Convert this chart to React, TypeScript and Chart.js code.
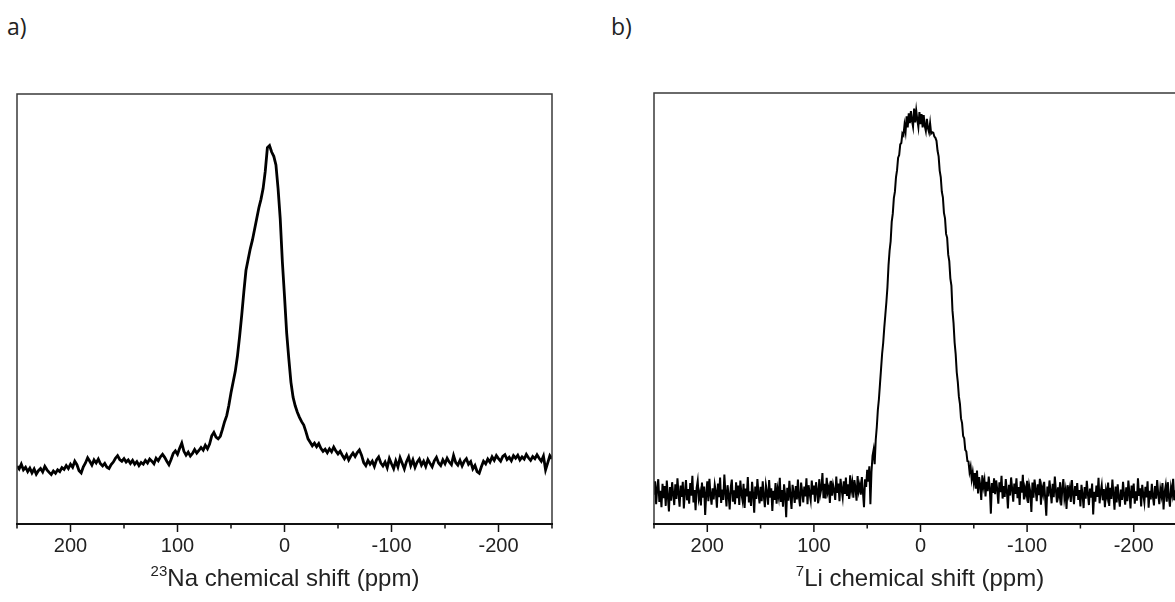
import React, { useEffect, useRef } from "react";
import { Chart, registerables } from "chart.js";

Chart.register(...registerables);

// ---------- data ----------
// 23Na spectrum, ppm from 250 down to -250 in 2 ppm steps
const naStartPpm = 250;
const naStepPpm = -2;
const naIntensity = [
  13.5, 12.8, 13.9, 12.6, 13.2, 12.2, 13.0, 11.9, 12.8, 11.6,
  12.4, 12.9, 12.1, 13.4, 12.6, 12.0, 11.5, 12.3, 11.8, 12.6,
  12.2, 13.1, 12.7, 13.6, 12.9, 13.9, 13.2, 14.6, 13.8, 12.4,
  11.9, 13.3, 14.2, 15.4, 14.6, 13.7, 14.9, 14.2, 15.1, 14.0,
  13.5, 14.1, 13.2, 12.9, 13.8, 14.4, 15.3, 15.9, 15.0, 14.6,
  15.2, 14.4, 14.9, 14.1, 14.8, 13.9, 14.5, 13.6, 14.3, 13.9,
  14.8, 14.2, 15.1, 14.6, 14.0, 15.3, 14.7, 15.6, 16.2, 15.5,
  14.6, 13.8, 15.0, 16.4, 17.0, 16.2, 17.6, 18.8, 16.9, 16.0,
  16.7, 15.8, 16.4, 17.3, 16.5, 17.1, 17.8, 17.2, 18.3, 17.5,
  18.6, 20.5, 21.3, 20.2, 19.8, 20.4, 22.0, 23.8, 25.2, 27.6,
  30.5, 33.0, 35.5, 39.0, 43.5, 48.5, 54.0, 59.0, 61.5, 64.0,
  66.0, 68.5, 71.0, 73.5, 75.5, 78.0, 82.0, 87.5, 88.0, 86.5,
  85.5, 83.5, 78.0, 71.0, 61.0, 53.0, 44.5, 38.5, 33.0, 29.5,
  27.5, 26.0, 24.8, 23.8, 23.0, 21.5, 19.8, 19.0, 18.2, 18.8,
  18.0, 18.7, 17.6, 16.9, 17.4, 16.6, 17.5, 16.8, 17.9, 17.0,
  16.3, 16.9, 16.0, 15.2, 16.1, 14.9, 15.8, 16.5, 15.7, 16.6,
  17.2, 16.0, 14.3, 13.6, 14.8, 13.9, 14.6, 13.4, 14.9, 15.6,
  14.2, 13.5, 14.4, 13.1, 15.2, 14.0, 12.9, 14.7, 13.3, 15.4,
  14.1, 12.8, 14.5, 15.6, 13.6, 14.9, 13.2, 14.4, 15.1, 13.7,
  14.6, 13.4, 15.0, 14.1, 13.3, 14.7, 15.5, 14.2, 13.6, 14.9,
  14.0, 15.3, 14.4, 13.8, 15.9, 14.3, 13.7, 14.8, 13.5, 14.6,
  15.2, 13.9, 14.5, 12.8, 13.6, 12.2, 11.8, 13.3, 14.6, 14.0,
  15.1, 14.4, 15.6, 14.8, 15.9, 15.2, 14.6, 15.7, 16.1, 15.0,
  15.5, 14.7, 15.9, 15.3, 16.0, 14.9, 15.6, 15.1, 16.2, 15.4,
  14.8, 15.7, 15.2, 16.1, 15.3, 14.6, 15.8, 12.6, 14.2, 15.9,
  15.2,
];

// 7Li spectrum, ppm from 250 down to -250 in 1 ppm steps
const liStartPpm = 250;
const liStepPpm = -1;
const liIntensity = [
  6.8, 9.9, 4.6, 8.2, 10.4, 5.1, 7.7, 3.9, 9.3, 6.0, 8.8, 4.2, 10.1, 6.5, 2.9, 8.6, 5.4, 9.7, 6.9, 4.4,
  9.2, 5.8, 10.6, 7.1, 4.0, 8.9, 6.3, 9.8, 3.6, 7.4, 10.2, 5.5, 8.1, 4.7, 9.5, 6.6, 11.2, 5.0, 7.9, 3.2,
  8.4, 10.0, 5.9, 7.2, 4.3, 9.6, 6.1, 8.7, 2.1, 7.0, 9.9, 5.3, 10.5, 6.8, 4.5, 8.3, 5.7, 9.1, 7.5, 3.8,
  9.4, 6.2, 10.8, 4.9, 8.0, 5.6, 11.5, 7.3, 4.1, 9.0, 6.7, 3.4, 8.5, 10.3, 5.2, 7.8, 4.6, 9.7, 6.0, 8.9,
  4.4, 10.1, 7.0, 5.5, 9.3, 3.7, 8.2, 6.4, 10.9, 5.0, 7.6, 4.2, 9.8, 6.9, 2.6, 8.7, 5.8, 10.4, 7.1, 4.8,
  8.6, 5.3, 9.9, 6.5, 3.9, 9.0, 7.4, 4.5, 10.2, 6.1, 8.3, 3.0, 7.7, 5.6, 9.5, 4.7, 8.0, 6.3, 10.7, 5.1,
  7.9, 4.0, 9.2, 6.8, 1.6, 8.4, 5.4, 10.0, 6.6, 3.5, 9.1, 7.2, 4.9, 8.8, 5.7, 10.3, 6.2, 4.1, 9.6, 7.5,
  5.0, 8.7, 6.4, 10.6, 4.6, 9.0, 7.1, 5.5, 10.1, 6.8, 8.9, 5.2, 9.7, 7.6, 4.8, 10.4, 6.9, 8.2, 11.8, 6.0,
  9.3, 5.9, 10.7, 7.4, 8.5, 4.9, 10.0, 6.6, 9.1, 7.8, 5.6, 11.0, 7.2, 9.4, 5.3, 10.5, 8.0, 6.2, 9.9, 7.0,
  10.8, 6.5, 9.2, 5.8, 11.3, 7.9, 9.6, 6.1, 10.2, 8.4, 5.4, 11.1, 7.7, 9.0, 6.8, 10.9, 7.3, 3.9, 10.4, 8.6,
  12.6, 9.8, 13.4, 4.6, 12.0, 15.8, 17.2, 13.9, 19.5, 22.5, 26.5, 29.0, 32.5, 36.0, 39.5, 42.0, 45.5, 48.5, 51.5, 55.0,
  60.0, 63.4, 65.6, 70.1, 72.0, 75.6, 77.1, 80.4, 82.1, 85.0, 85.6, 88.1, 88.4, 90.6, 90.2, 92.6, 91.0, 94.6, 92.0, 95.3,
  93.0, 95.8, 93.6, 92.2, 96.4, 93.2, 95.9, 93.8, 92.1, 95.6, 92.8, 95.1, 92.0, 94.9, 92.4, 91.2, 94.0, 91.8, 90.9, 93.0,
  90.6, 90.9, 90.8, 89.9, 89.6, 88.9, 86.6, 85.3, 82.0, 80.5, 77.1, 75.8, 72.2, 70.9, 67.3, 66.4, 62.5, 61.0, 57.0, 55.3,
  49.5, 46.6, 42.1, 39.4, 35.2, 32.9, 29.6, 27.9, 24.5, 23.4, 20.4, 19.9, 17.2, 16.8, 14.6, 14.5, 12.1, 13.3, 10.4, 12.0,
  9.6, 11.8, 8.2, 12.4, 7.1, 10.9, 9.0, 5.6, 11.3, 8.7, 10.2, 6.4, 9.8, 7.6, 11.0, 8.3, 2.4, 9.5, 7.2, 10.6,
  6.9, 10.1, 8.0, 4.7, 9.7, 7.4, 11.2, 5.9, 8.8, 6.3, 10.4, 7.7, 3.6, 9.1, 6.6, 10.8, 8.1, 5.2, 9.4, 7.0,
  10.6, 6.0, 8.6, 4.4, 9.9, 7.3, 11.4, 5.7, 8.2, 6.8, 10.0, 4.9, 8.9, 7.5, 2.8, 9.6, 6.1, 10.3, 7.9, 5.3,
  9.2, 6.7, 10.5, 4.5, 8.4, 7.0, 9.8, 5.8, 1.9, 8.7, 6.4, 10.1, 7.6, 4.8, 9.3, 6.2, 11.0, 7.8, 5.0, 8.5,
  6.6, 9.7, 4.3, 8.0, 10.4, 6.0, 7.7, 3.5, 9.0, 6.9, 8.3, 5.1, 10.2, 7.2, 4.6, 8.8, 6.5, 9.5, 5.6, 7.9,
  4.1, 9.1, 6.8, 3.7, 8.6, 5.9, 10.0, 7.0, 4.4, 8.2, 6.1, 9.4, 2.2, 7.5, 5.2, 8.9, 6.3, 10.7, 4.8, 7.4,
  9.0, 5.5, 8.1, 3.9, 7.8, 6.4, 9.6, 4.2, 8.4, 5.8, 10.3, 6.9, 3.3, 8.7, 5.0, 9.2, 6.2, 4.0, 8.0, 5.6,
  9.8, 6.7, 4.5, 8.5, 5.3, 10.1, 7.1, 3.6, 8.9, 6.0, 9.4, 4.7, 7.6, 5.4, 10.6, 6.5, 8.3, 4.1, 9.1, 6.8,
  5.0, 8.6, 6.2, 9.9, 3.8, 7.7, 5.7, 9.3, 6.4, 4.3, 8.8, 5.9, 10.2, 7.0, 4.6, 8.1, 6.6, 9.5, 3.4, 7.3,
  8.9, 5.2, 9.7, 6.3, 4.0, 8.4, 6.9, 10.5, 5.5, 7.8, 4.7, 9.0, 6.1, 8.7, 3.9, 7.5, 9.6, 5.8, 8.2, 6.7,
  7.2,
];

const xMin = -250;
const xMax = 250;
const majorTicks = [200, 100, 0, -100, -200];
const minorTicks = [250, 150, 50, -50, -150, -250];

// ---------- helpers ----------
function toPoints(start: number, step: number, values: number[]) {
  return values.map((v, i) => ({ x: start + i * step, y: v }));
}

const framePlugin = {
  id: "nmrFrame",
  afterDraw(chart: any) {
    const { ctx, chartArea } = chart;
    const { left, right, top, bottom } = chartArea;
    const xs = chart.scales.x;
    ctx.save();
    ctx.lineCap = "butt";
    ctx.strokeStyle = "#3a3a3a";
    ctx.lineWidth = 1.5;
    ctx.beginPath();
    ctx.moveTo(left, bottom);
    ctx.lineTo(left, top);
    ctx.lineTo(right, top);
    ctx.lineTo(right, bottom);
    ctx.stroke();
    ctx.strokeStyle = "#111";
    ctx.lineWidth = 2;
    ctx.beginPath();
    ctx.moveTo(left - 1, bottom);
    ctx.lineTo(right + 1, bottom);
    ctx.stroke();
    ctx.lineWidth = 1.5;
    ctx.beginPath();
    for (const v of majorTicks) {
      const px = xs.getPixelForValue(v);
      ctx.moveTo(px, bottom);
      ctx.lineTo(px, bottom + 8);
    }
    for (const v of minorTicks) {
      const px = xs.getPixelForValue(v);
      ctx.moveTo(px, bottom);
      ctx.lineTo(px, bottom + 4.5);
    }
    ctx.stroke();
    ctx.restore();
  },
};

function makeConfig(points: { x: number; y: number }[], lineWidth: number, pad: any) {
  return {
    type: "line" as const,
    data: {
      datasets: [
        {
          data: points,
          borderColor: "#000",
          borderWidth: lineWidth,
          pointRadius: 0,
          tension: 0,
          fill: false,
        },
      ],
    },
    options: {
      animation: false,
      responsive: false,
      maintainAspectRatio: false,
      events: [],
      layout: { padding: pad },
      plugins: { legend: { display: false }, tooltip: { enabled: false } },
      scales: {
        x: {
          type: "linear",
          reverse: true,
          min: xMin,
          max: xMax,
          afterFit: (scale: any) => {
            scale.height = 40;
          },
          grid: { display: false, drawTicks: true, tickLength: 8 },
          border: { display: false },
          ticks: {
            stepSize: 50,
            autoSkip: false,
            maxRotation: 0,
            padding: 2,
            color: "#222",
            font: { family: "'Liberation Sans', Arial, sans-serif", size: 20 },
            callback: (v: number) => (majorTicks.includes(v) ? String(v) : ""),
          },
        },
        y: {
          display: false,
          min: 0,
          max: 100,
        },
      },
    },
    plugins: [framePlugin],
  };
}

function Spectrum(props: {
  points: { x: number; y: number }[];
  lineWidth: number;
  left: number;
  width: number;
  pad: any;
}) {
  const ref = useRef<HTMLCanvasElement | null>(null);
  useEffect(() => {
    if (!ref.current) return;
    const chart = new Chart(ref.current, makeConfig(props.points, props.lineWidth, props.pad) as any);
    return () => chart.destroy();
  }, []);
  return (
    <canvas
      ref={ref}
      width={props.width}
      height={602}
      style={{ position: "absolute", left: props.left, top: 0, width: props.width, height: 602 }}
    />
  );
}

const titleStyle: React.CSSProperties = {
  position: "absolute",
  top: 564,
  fontFamily: "'Liberation Sans', Arial, sans-serif",
  fontSize: 24,
  color: "#222",
  whiteSpace: "nowrap",
  transform: "translateX(-50%)",
  lineHeight: "28px",
};
const supStyle: React.CSSProperties = { fontSize: 15, verticalAlign: "top", lineHeight: "15px", position: "relative", top: -1 };
const panelStyle: React.CSSProperties = {
  position: "absolute",
  top: 10,
  fontFamily: "'Open Sans', 'Noto Sans', sans-serif",
  fontSize: 23,
  color: "#222",
};

export default function App() {
  const naPoints = toPoints(naStartPpm, naStepPpm, naIntensity);
  const liPoints = toPoints(liStartPpm, liStepPpm, liIntensity);
  return (
    <div
      style={{
        position: "fixed",
        left: 0,
        top: 0,
        width: 1175,
        height: 602,
        overflow: "hidden",
        background: "#fff",
      }}
    >
      <div style={{ ...panelStyle, left: 7 }}>a)</div>
      <div style={{ ...panelStyle, left: 611 }}>b)</div>
      <Spectrum points={naPoints} lineWidth={2.8} left={0} width={575} pad={{ left: 17, right: 23, top: 94, bottom: 38 }} />
      <Spectrum points={liPoints} lineWidth={2} left={600} width={600} pad={{ left: 54, right: 13, top: 93, bottom: 38 }} />
      <div style={{ ...titleStyle, left: 285 }}>
        <span style={supStyle}>23</span>Na chemical shift (ppm)
      </div>
      <div style={{ ...titleStyle, left: 920 }}>
        <span style={supStyle}>7</span>Li chemical shift (ppm)
      </div>
    </div>
  );
}
